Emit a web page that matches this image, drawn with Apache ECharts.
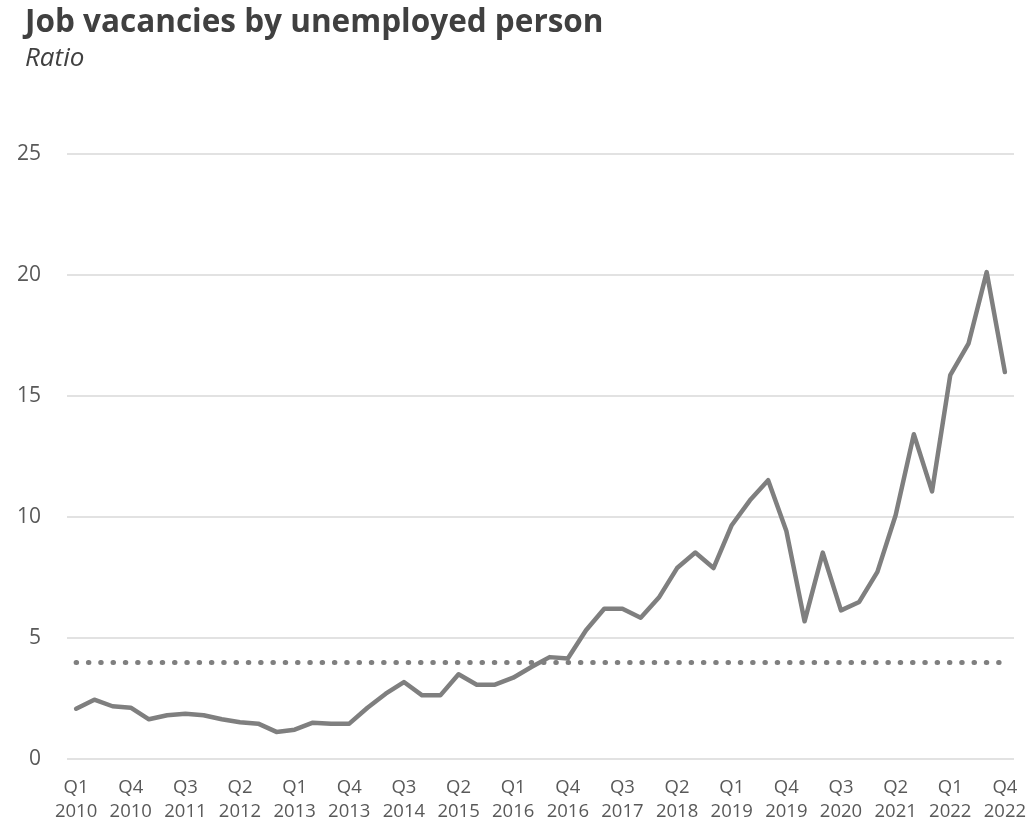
<!DOCTYPE html>
<html>
<head>
<meta charset="utf-8">
<script src="https://cdn.jsdelivr.net/npm/echarts@6/dist/echarts.min.js"></script>
<style>
  html, body { margin: 0; padding: 0; background: #fff; }
  #chart { width: 1026px; height: 820px; }
</style>
</head>
<body>
<div id="chart"></div>
<script>
// Quarterly periods, Q1 2010 – Q4 2022
const years = [2010, 2011, 2012, 2013, 2014, 2015, 2016, 2017, 2018, 2019, 2020, 2021, 2022];
const quarters = ['Q1', 'Q2', 'Q3', 'Q4'];
const categories = [];
years.forEach(y => quarters.forEach(q => categories.push(q + '\n' + y)));

// Job vacancies per unemployed person
const ratio = [
  2.08, 2.45, 2.18, 2.12, 1.64, 1.81, 1.87, 1.81, 1.64, 1.52, 1.46, 1.12,
  1.21, 1.50, 1.46, 1.46, 2.12, 2.70, 3.18, 2.63, 2.63, 3.50, 3.07, 3.07,
  3.36, 3.80, 4.21, 4.15, 5.32, 6.21, 6.21, 5.84, 6.67, 7.89, 8.53, 7.89,
  9.66, 10.69, 11.52, 9.42, 5.69, 8.53, 6.14, 6.49, 7.73, 10.07, 13.42, 11.06,
  15.86, 17.16, 20.12, 15.99
];

// Reference level drawn as a dotted line
const referenceLevel = 4;

// Value axis ticks
const yTicks = [0, 5, 10, 15, 20, 25];

const font = '"Open Sans", "Liberation Sans", sans-serif';
const grey = '#7f7f7f';

const chart = echarts.init(document.getElementById('chart'), null, { renderer: 'canvas' });
chart.setOption({
  animation: false,
  backgroundColor: '#ffffff',
  title: {
    text: 'Job vacancies by unemployed person',
    subtext: 'Ratio',
    left: 20,
    top: 2,
    itemGap: 7,
    textStyle: { fontFamily: font, fontSize: 31.5, fontWeight: 'bold', color: '#404040' },
    subtextStyle: { fontFamily: font, fontSize: 26, fontStyle: 'italic', color: '#404040' }
  },
  grid: {
    left: 67, right: 12, top: 154, bottom: 61,
    containLabel: false,
    outerBoundsMode: 'none'
  },
  xAxis: {
    type: 'category',
    data: categories,
    boundaryGap: true,
    axisLine: { show: false },
    axisTick: { show: false },
    axisLabel: {
      interval: 2,
      margin: 17,
      fontFamily: font,
      fontSize: 18.5,
      lineHeight: 23.5,
      color: '#595959'
    }
  },
  yAxis: {
    type: 'value',
    min: yTicks[0],
    max: yTicks[yTicks.length - 1],
    interval: yTicks[1] - yTicks[0],
    axisLine: { show: false },
    axisTick: { show: false },
    axisLabel: { margin: 26, fontFamily: font, fontSize: 21, color: '#595959' },
    splitLine: { lineStyle: { color: '#d9d9d9', width: 1.5 } }
  },
  series: [{
    type: 'line',
    data: ratio,
    symbol: 'none',
    lineStyle: { color: grey, width: 4.5, join: 'round', cap: 'round' },
    markLine: {
      silent: true,
      symbol: 'none',
      label: { show: false },
      lineStyle: { color: grey, width: 5, type: [0.5, 11.8], cap: 'round' },
      data: [[
        { coord: [categories[0], referenceLevel] },
        { coord: [categories[categories.length - 1], referenceLevel] }
      ]]
    }
  }]
});
</script>
</body>
</html>
